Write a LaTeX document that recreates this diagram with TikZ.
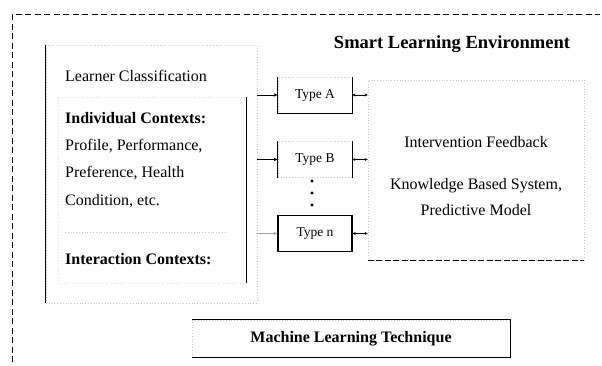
\documentclass[tikz,border=0pt]{standalone}
\usepackage{fontspec}
\setmainfont{Liberation Serif}
\usetikzlibrary{positioning,arrows.meta}

\begin{document}
\begin{tikzpicture}[x=1pt, y=-1pt,
      font=\fontsize{16}{18}\selectfont,
      faint/.style={draw=black!22, dotted, line width=0.8pt},
      solid edge/.style={draw=black, line width=1.3pt},
      caixa/.style={minimum width=#1, inner sep=0pt},
      rotulo/.style={inner sep=0pt, anchor=west},
      tipo/.style={caixa=74pt, minimum height=36pt, font=\fontsize{13.5}{15}\selectfont},
      seta/.style={-{Stealth[length=4pt, width=3.5pt]}, line width=0.9pt},
      seta dupla/.style={{Stealth[length=3pt, width=3pt]}-{Stealth[length=3pt, width=3pt]}, line width=0.8pt}]
    \useasboundingbox (0,0) rectangle (602,365);
    % ambiente
    \draw[line width=1pt, dash pattern=on 6pt off 3.5pt] (12,362) |- (600,14);
    \node[font=\fontsize{18.5}{20}\selectfont\bfseries, inner sep=0pt] (sle) at (452,44) {Smart Learning Environment};
    % classificacao do aprendiz
    \node[faint, caixa=211pt, minimum height=258pt] (lc) at (151.5,174) {};
    \draw[solid edge] (lc.north west) -- (lc.south west);
    \node[rotulo] (lct) at (65,76) {Learner Classification};
    \node[faint, draw=black!12, caixa=188pt, minimum height=186pt] (ctx) at (152,190) {};
    \draw[solid edge] (ctx.north east) -- (ctx.south east);
    \node[inner sep=0pt, anchor=north west, align=left, font=\fontsize{16}{27.3}\selectfont] (ind) at (65,112)
      {\textbf{Individual Contexts:}\\ Profile, Performance,\\ Preference, Health\\ Condition, etc.};
    \draw[faint] (65,232) -- (225,232);
    \node[rotulo, font=\fontsize{16}{18}\selectfont\bfseries] (int) at (65,259) {Interaction Contexts:};
    % tipos
    \node[tipo, faint] (ta) at (315,95) {Type A};
    \draw[solid edge] (ta.north west) |- (ta.south east) -- (ta.north east);
    \node[tipo, faint] (tb) at (315,159.5) {Type B};
    \draw[solid edge] (tb.north west) -- (tb.south west);
    \draw[solid edge] (tb.north east) -- (tb.south east);
    \node[tipo, solid edge] (tn) at (315,233.5) {Type n};
    \foreach \y in {181,193,205} \fill (312,\y) circle (1.6pt);
    % retroalimentacao
    \node[faint, caixa=216pt, minimum height=180pt] (fb) at (476,170) {};
    \draw[draw=white, line width=1.2pt] (fb.north west) -- (fb.south west);
    \draw[line width=1.1pt, dash pattern=on 6pt off 2.5pt] (fb.south west) -- (fb.south east);
    \node[inner sep=0pt] (ifb) at (476,142) {Intervention Feedback};
    \node[inner sep=0pt] (kbs) at (476,186) {Knowledge Based System,};
    \node[inner sep=0pt] (pm) at (476,210) {Predictive Model};
    % aprendizado de maquina
    \node[faint, caixa=318pt, minimum height=37pt, font=\fontsize{16}{18}\selectfont\bfseries] (ml) at (351,338.5) {Machine Learning Technique};
    \draw[solid edge] (ml.north west) -| (ml.south east) -- (ml.south west);
    % setas
    \draw[seta] (lc.east |- ta.west) -- (ta.west);
    \draw[seta] (lc.east |- tb.west) -- (tb.west);
    \draw[seta, black!35] (lc.east |- tn.west) -- (tn.west);
    \draw[seta dupla] (ta.east) -- (fb.west |- ta.east);
    \draw[seta dupla] (tb.east) -- (fb.west |- tb.east);
    \draw[seta dupla] (tn.east) -- (fb.west |- tn.east);
\end{tikzpicture}
\end{document}
